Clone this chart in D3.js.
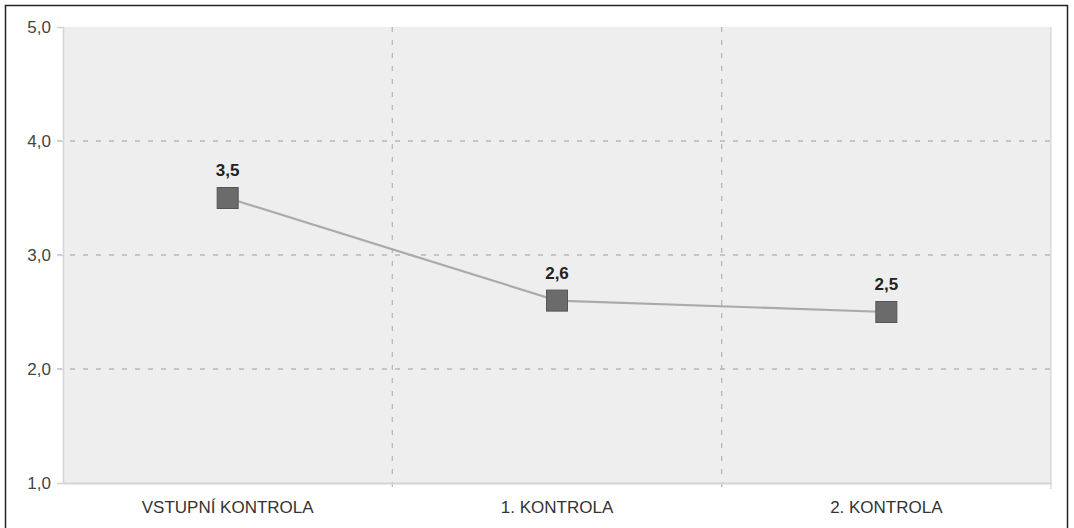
<!DOCTYPE html>
<html>
<head>
<meta charset="utf-8">
<script src="https://cdn.jsdelivr.net/npm/d3@7"></script>
<style>
  html, body { margin: 0; padding: 0; background: #fff; }
  svg { display: block; }
  text { font-family: "Liberation Sans", Arial, sans-serif; }
</style>
</head>
<body>
<svg id="chart" width="1074" height="528"></svg>
<script>
// Average score per checkpoint
const categories = ["VSTUPNÍ KONTROLA", "1. KONTROLA", "2. KONTROLA"];
const values = [3.5, 2.6, 2.5];
const yTicks = [1, 2, 3, 4, 5];

const svg = d3.select("#chart");
const W = 1074, H = 528;
const plot = { left: 63, right: 1051, top: 27, bottom: 483 };

const fmt = v => d3.format(".1f")(v).replace(".", ",");

// outer frame (open at the bottom)
svg.append("path")
  .attr("d", `M5.5,${H} V5.5 H1067.5 V${H}`)
  .attr("fill", "none").attr("stroke", "#222").attr("stroke-width", 1.5);

const x = d3.scaleBand().domain(categories).range([plot.left, plot.right]).padding(0);
const y = d3.scaleLinear().domain([1, 5]).range([plot.bottom, plot.top]);

// plot background
svg.append("rect")
  .attr("x", plot.left).attr("y", plot.top)
  .attr("width", plot.right - plot.left).attr("height", plot.bottom - plot.top)
  .attr("fill", "#eeeeee");

// horizontal dashed grid
svg.append("g").selectAll("line")
  .data(yTicks.filter(t => t > 1 && t < 5))
  .join("line")
  .attr("x1", plot.left - 6).attr("x2", plot.right)
  .attr("y1", d => y(d)).attr("y2", d => y(d))
  .attr("stroke", "#b8b8b8").attr("stroke-width", 1.3)
  .attr("stroke-dasharray", "5,8");

// vertical dashed separators between categories
const seps = categories.slice(1).map(c => x(c));
svg.append("g").selectAll("line")
  .data(seps)
  .join("line")
  .attr("x1", d => d).attr("x2", d => d)
  .attr("y1", plot.top).attr("y2", plot.bottom + 6)
  .attr("stroke", "#b8b8b8").attr("stroke-width", 1.3)
  .attr("stroke-dasharray", "5,8");

// axes
const yAxis = d3.axisLeft(y).tickValues(yTicks).tickSize(6).tickPadding(6).tickFormat(fmt);
const gy = svg.append("g").attr("transform", `translate(${plot.left},0)`).call(yAxis);
gy.select(".domain").attr("stroke", "#d4d4d4").attr("stroke-width", 1.5);
gy.selectAll(".tick line").attr("stroke", "#d4d4d4").attr("stroke-width", 1.2);
gy.selectAll(".tick text").attr("font-size", 17).attr("fill", "#444")
  .attr("font-family", "Liberation Sans, Arial, sans-serif");

const xAxis = d3.axisBottom(x).tickSize(0).tickPadding(18);
const gx = svg.append("g").attr("transform", `translate(0,${plot.bottom})`).call(xAxis);
gx.select(".domain").attr("stroke", "#d4d4d4").attr("stroke-width", 2);
gx.selectAll(".tick text").attr("font-size", 17).attr("fill", "#333")
  .attr("font-family", "Liberation Sans, Arial, sans-serif");
// end tick on the right
svg.append("line")
  .attr("x1", plot.right).attr("x2", plot.right)
  .attr("y1", plot.top).attr("y2", plot.bottom + 6)
  .attr("stroke", "#d4d4d4").attr("stroke-width", 1.2);

// series line
const pts = categories.map((c, i) => [x(c) + x.bandwidth() / 2, y(values[i])]);
svg.append("path")
  .attr("d", d3.line()(pts))
  .attr("fill", "none").attr("stroke", "#aaaaaa").attr("stroke-width", 2.2);

// square markers
const ms = 21;
svg.append("g").selectAll("rect")
  .data(pts)
  .join("rect")
  .attr("x", d => d[0] - ms / 2).attr("y", d => d[1] - ms / 2)
  .attr("width", ms).attr("height", ms)
  .attr("fill", "#6b6b6b").attr("stroke", "#555").attr("stroke-width", 1);

// value labels
svg.append("g").selectAll("text")
  .data(pts)
  .join("text")
  .attr("x", d => d[0]).attr("y", d => d[1] - 22)
  .attr("text-anchor", "middle")
  .attr("font-size", 17).attr("font-weight", "bold").attr("fill", "#222")
  .text((d, i) => fmt(values[i]));
</script>
</body>
</html>
